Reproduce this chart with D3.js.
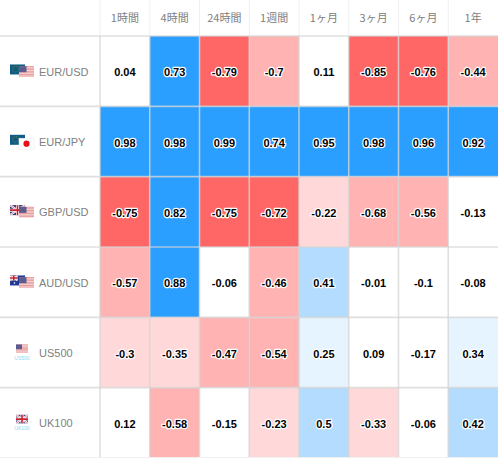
<!DOCTYPE html>
<html><head><meta charset="utf-8">
<script src="https://cdn.jsdelivr.net/npm/d3@7/dist/d3.min.js"></script>
<style>html,body{margin:0;padding:0;background:#fff}svg{display:block}</style>
</head><body><svg id="c" width="498" height="458"></svg>
<script>
const periods = ["1時間","4時間","24時間","1週間","1ヶ月","3ヶ月","6ヶ月","1年"];
const instruments = ["EUR/USD","EUR/JPY","GBP/USD","AUD/USD","US500","UK100"];
const flagCodes = [["eu","us"],["eu","jp"],["gb","us"],["au","us"],["us500"],["uk100"]];
const rowEUR_USD = [0.04,0.73,-0.79,-0.7,0.11,-0.85,-0.76,-0.44];
const rowEUR_JPY = [0.98,0.98,0.99,0.74,0.95,0.98,0.96,0.92];
const rowGBP_USD = [-0.75,0.82,-0.75,-0.72,-0.22,-0.68,-0.56,-0.13];
const rowAUD_USD = [-0.57,0.88,-0.06,-0.46,0.41,-0.01,-0.1,-0.08];
const rowUS500 = [-0.3,-0.35,-0.47,-0.54,0.25,0.09,-0.17,0.34];
const rowUK100 = [0.12,-0.58,-0.15,-0.23,0.5,-0.33,-0.06,0.42];
const rows = [rowEUR_USD,rowEUR_JPY,rowGBP_USD,rowAUD_USD,rowUS500,rowUK100];
const colorBreaks = [-0.7,-0.4,-0.2,0.2,0.4,0.7];
const colorSteps = ["#ff6666","#ffb3b3","#ffd9d9","#ffffff","#e6f4ff","#b3dcff","#2b9fff"];

const W=498,H=458,headH=36,labelW=100;
const svg=d3.select("#c");
const x=d3.scaleBand().domain(periods).range([labelW,W]);
const y=d3.scaleBand().domain(instruments).range([headH,H]);
const color=d3.scaleThreshold().domain(colorBreaks).range(colorSteps);
const fill=v=>v===-0.7?colorSteps[1]:color(v);

rows.forEach((vals,r)=>{
  vals.forEach((v,c)=>{
    svg.append("rect").attr("x",x(periods[c])).attr("y",y(instruments[r])).attr("width",x.bandwidth()).attr("height",y.bandwidth())
      .attr("fill",fill(v));
  });
});
const grid=svg.append("g").attr("stroke","#d4d4d4").attr("stroke-opacity",0.75).attr("stroke-width",1.6);
periods.forEach(p=>{
  grid.append("line").attr("x1",x(p)).attr("x2",x(p)).attr("y1",headH).attr("y2",H);
  grid.append("line").attr("x1",x(p)).attr("x2",x(p)).attr("y1",0).attr("y2",headH).attr("stroke","#f0f0f0").attr("stroke-opacity",1).attr("stroke-width",1);
});
instruments.forEach(n=>{
  grid.append("line").attr("x1",0).attr("x2",W).attr("y1",y(n)).attr("y2",y(n));
});
grid.append("line").attr("x1",0).attr("x2",W).attr("y1",H-0.5).attr("y2",H-0.5).attr("stroke","#f0f0f0").attr("stroke-opacity",1).attr("stroke-width",1);

rows.forEach((vals,r)=>{
  vals.forEach((v,c)=>{
    svg.append("text").attr("x",x(periods[c])+x.bandwidth()/2).attr("y",y(instruments[r])+y.bandwidth()/2+5)
      .attr("text-anchor","middle").attr("font-family","'Liberation Sans',Arial,sans-serif")
      .attr("font-size",11).attr("font-weight","bold").attr("fill","#000")
      .attr("stroke","#fff").attr("stroke-width",2.4).attr("paint-order","stroke").attr("stroke-linejoin","round")
      .text(v);
  });
});
svg.append("g").selectAll("text").data(periods).join("text")
  .attr("x",d=>x(d)+x.bandwidth()/2).attr("y",22).attr("text-anchor","middle")
  .attr("font-family","'Noto Sans CJK JP','Liberation Sans',sans-serif").attr("font-size",11).attr("fill","#808080").text(d=>d);
svg.append("g").selectAll("text").data(instruments).join("text")
  .attr("x",39).attr("y",d=>y(d)+y.bandwidth()/2+4.5).attr("font-family","'Liberation Sans',Arial,sans-serif")
  .attr("font-size",11).attr("fill","#808080").text(d=>d);

function usFlag(g,w,h){
  g.append("rect").attr("width",w).attr("height",h).attr("fill","#f7e3e3");
  d3.range(0,7).forEach(i=>g.append("rect").attr("y",i*h/7).attr("width",w).attr("height",h/14).attr("fill","#e58a8a"));
  g.append("rect").attr("width",w*0.5).attr("height",h*0.55).attr("fill","#5c5c8f");
}
function euFlag(g,w,h){
  g.append("rect").attr("width",w).attr("height",h).attr("fill","#0f5b82");
  g.append("circle").attr("cx",w*0.38).attr("cy",h*0.47).attr("r",h*0.3).attr("fill","none").attr("stroke","#7d8f3a").attr("stroke-width",0.8).attr("stroke-dasharray","1 1");
}
function jpFlag(g,w,h){
  g.append("rect").attr("width",w).attr("height",h).attr("fill","#fff").attr("stroke","#e8e8e8").attr("stroke-width",0.5);
  g.append("circle").attr("cx",w/2).attr("cy",h/2).attr("r",h*0.28).attr("fill","#e8101a");
}
function gbFlag(g,w,h){
  g.append("rect").attr("width",w).attr("height",h).attr("fill","#2b3a78");
  g.append("path").attr("d",`M0 0L${w} ${h}M${w} 0L0 ${h}`).attr("stroke","#fff").attr("stroke-width",2);
  g.append("path").attr("d",`M0 0L${w} ${h}M${w} 0L0 ${h}`).attr("stroke","#d06070").attr("stroke-width",0.7);
  g.append("path").attr("d",`M${w/2} 0V${h}M0 ${h/2}H${w}`).attr("stroke","#fff").attr("stroke-width",3);
  g.append("path").attr("d",`M${w/2} 0V${h}M0 ${h/2}H${w}`).attr("stroke","#c8202f").attr("stroke-width",1.6);
}
function auFlag(g,w,h){
  g.append("rect").attr("width",w).attr("height",h).attr("fill","#1f3a94");
  gbFlag(g.append("g"),w/2,h/2);
  [[.7,.25],[.85,.45],[.7,.75],[.3,.75]].forEach(p=>g.append("circle").attr("cx",p[0]*w).attr("cy",p[1]*h).attr("r",0.8).attr("fill","#fff"));
}
const drawFlag={eu:euFlag,us:usFlag,jp:jpFlag,gb:gbFlag,au:auFlag};
flagCodes.forEach((codes,r)=>{
  const cy=y(instruments[r])+y.bandwidth()/2;
  if(codes.length===2){
    drawFlag[codes[0]](svg.append("g").attr("transform",`translate(10,${cy-6.7})`),15,10);
    const top=codes[1]==="jp"?cy-3.3:cy-5;
    drawFlag[codes[1]](svg.append("g").attr("transform",`translate(19,${top})`),15,11);
  } else {
    const us=codes[0]==="us500";
    (us?usFlag:gbFlag)(svg.append("g").attr("transform",`translate(16,${cy-8})`),12,8.5);
    svg.append("text").attr("x",22).attr("y",cy+7).attr("text-anchor","middle").attr("font-family","'Liberation Sans',sans-serif")
      .attr("font-size",5).attr("fill","#7fdcf5").text(us?"US500":"UK100");
  }
});
</script></body></html>
